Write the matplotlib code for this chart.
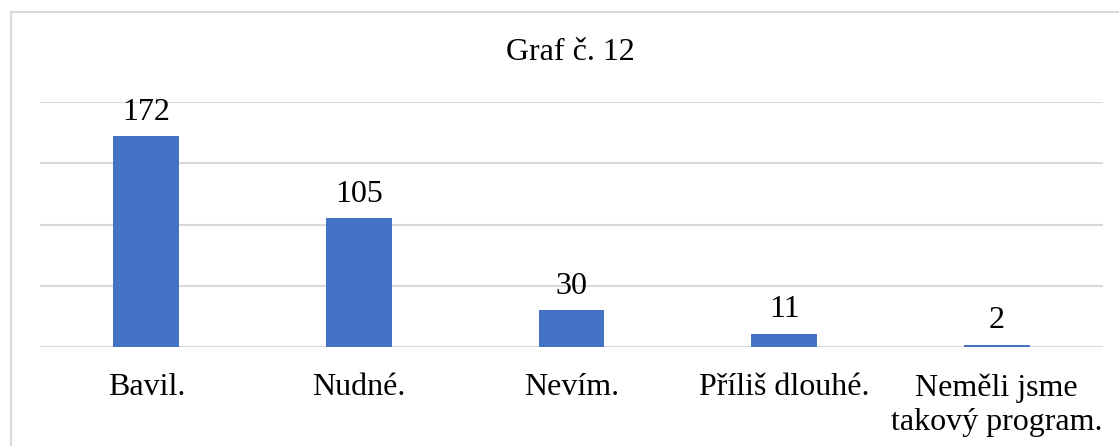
import matplotlib.pyplot as plt
from matplotlib.patches import Rectangle

categories = ['Bavil.', 'Nudné.', 'Nevím.', 'Příliš dlouhé.', 'Neměli jsme\ntakový program.']
values = [172, 105, 30, 11, 2]

plt.rcParams['font.family'] = ['Liberation Serif', 'DejaVu Serif']

fig = plt.figure(figsize=(11.19, 4.46), dpi=100)
ax = fig.add_axes([40 / 1119, 1 - 347 / 446, 1063 / 1119, 245 / 446])

# light frame around the chart area
fig.patches.append(Rectangle((11 / 1119, -0.1), 1.1, 1 - 12 / 446 + 0.1,
                             transform=fig.transFigure, fill=False,
                             edgecolor='#d9d9d9', linewidth=1.5, clip_on=False))

x = range(len(categories))
bars = ax.bar(x, values, width=0.31, color='#4472C4', zorder=3)

for b, v in zip(bars, values):
    ax.annotate(str(v), (b.get_x() + b.get_width() / 2, v), xytext=(0, 7),
                textcoords='offset points', ha='center', va='bottom', fontsize=23)

ax.set_xlim(-0.5, len(categories) - 0.5)
ax.set_ylim(0, 200)
ax.set_yticks([0, 50, 100, 150, 200])
ax.yaxis.grid(True, color='#d9d9d9', linewidth=1.5, zorder=0)
ax.tick_params(axis='y', left=False, labelleft=False)
ax.tick_params(axis='x', length=0, pad=19, labelsize=23)
ax.set_xticks(list(x))
ax.set_xticklabels(categories, linespacing=1.25)
for s in ax.spines.values():
    s.set_visible(False)

fig.text(570 / 1119, 1 - 53 / 446, 'Graf č. 12', ha='center', va='center', fontsize=23)

fig.savefig('out.png', dpi=100)
